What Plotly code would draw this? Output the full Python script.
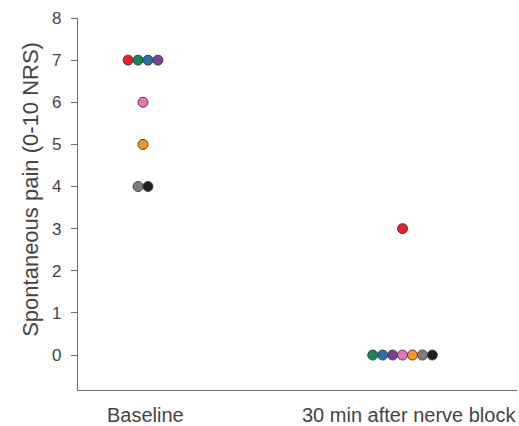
import plotly.graph_objects as go

groups = ["Baseline", "30 min after nerve block"]
patients = ["P1", "P2", "P3", "P4", "P5", "P6", "P7", "P8"]
colors = ["#E8212A", "#17875A", "#2B6CAE", "#7A4197", "#E674B4", "#F7941D", "#7D7E80", "#231F20"]
baseline = [7, 7, 7, 7, 6, 5, 4, 4]
after_block = [3, 0, 0, 0, 0, 0, 0, 0]
yticks = [0, 1, 2, 3, 4, 5, 6, 7, 8]

series = [baseline, after_block]
spacing = 0.0383
label_shift = [0.01, 0.025]

fig = go.Figure()
for gi, vals in enumerate(series):
    xs = []
    for i, v in enumerate(vals):
        same = [j for j, w in enumerate(vals) if w == v]
        rank = same.index(i)
        xs.append(gi + (rank - (len(same) - 1) / 2) * spacing)
    fig.add_trace(go.Scatter(
        x=xs, y=vals, mode="markers",
        marker=dict(size=10, color=colors, line=dict(color="#444444", width=1)),
        text=patients, showlegend=False, cliponaxis=False,
    ))

axis_col = "#6d6d6d"
fig.update_layout(
    width=519, height=426,
    margin=dict(l=78, r=2, t=18, b=36),
    plot_bgcolor="white", paper_bgcolor="white",
    font=dict(family="Liberation Sans, Arial, sans-serif", color="#444444"),
    xaxis=dict(range=[-0.2505, 1.441], showgrid=False, zeroline=False,
               showline=True, linecolor=axis_col, linewidth=1.3,
               showticklabels=False, ticks=""),
    yaxis=dict(range=[-0.83, 8], tickvals=yticks, showgrid=False, zeroline=False,
               showline=True, linecolor=axis_col, linewidth=1.3,
               ticks="outside", ticklen=6, tickcolor=axis_col, tickwidth=1.3,
               ticklabelstandoff=6,
               tickfont=dict(size=17, color="#444444")),
)
for gi, g in enumerate(groups):
    fig.add_annotation(x=gi + label_shift[gi], xref="x", y=-0.066, yref="paper",
                       yanchor="middle", text=g, showarrow=False, borderpad=0,
                       font=dict(size=20, color="#444444"))
fig.add_annotation(x=-0.11, xref="paper", y=0.54, yref="paper",
                   text="Spontaneous pain (0-10 NRS)", textangle=-90, showarrow=False,
                   font=dict(size=22, color="#444444"), xanchor="center", yanchor="middle")

fig.write_html("out.html")
